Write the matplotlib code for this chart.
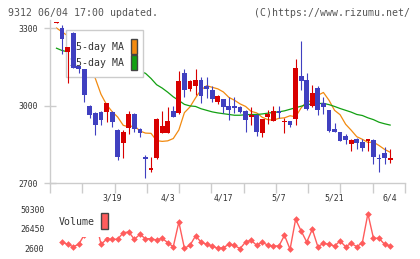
import numpy as np
import matplotlib
matplotlib.use("Agg")
import matplotlib.pyplot as plt
from matplotlib.patches import Rectangle
from matplotlib.transforms import blended_transform_factory

# ---------------- data ----------------
opens = [3320, 3299, 3206, 3281, 3153, 3140, 2998, 2970, 2976, 2974,
         2976, 2905, 2854, 2912, 2967, 2909, 2797, 2753, 2796, 2896,
         2896, 2979, 2970, 3127, 3063, 3077, 3099, 3077, 3060, 3016,
         3025, 2998, 2998, 2995, 2980, 2955, 2963, 2896, 2957, 2942,
         2979, 2937, 2940, 2948, 3114, 3099, 2998, 3067, 3011, 2983,
         2908, 2899, 2882, 2851, 2873, 2860, 2864, 2869, 2795, 2817, 2789]
highs = [3325, 3312, 3228, 3283, 3155, 3142, 3003, 2975, 2980, 3012,
         2980, 2908, 2905, 2980, 2970, 2912, 2808, 2802, 2952, 2980,
         2993, 2998, 3134, 3141, 3100, 3141, 3112, 3112, 3075, 3043,
         3027, 3032, 3033, 2997, 2982, 2995, 2966, 2950, 2982, 2997,
         2997, 2954, 2942, 3180, 3251, 3127, 3080, 3076, 3032, 2985,
         2933, 2900, 2892, 2870, 2875, 2873, 2871, 2871, 2815, 2840, 2831]
lows = [3318, 3198, 3088, 3145, 3125, 3015, 2952, 2886, 2924, 2938,
        2916, 2789, 2796, 2892, 2899, 2877, 2722, 2744, 2795, 2895,
        2894, 2955, 2968, 3032, 3058, 3041, 3012, 3028, 3014, 3005,
        2972, 2944, 2971, 2970, 2899, 2925, 2882, 2877, 2930, 2940,
        2951, 2895, 2918, 2925, 3060, 2985, 2994, 2963, 2968, 2900,
        2897, 2862, 2851, 2825, 2834, 2825, 2825, 2776, 2744, 2776, 2779]
closes = [3324, 3256, 3226, 3146, 3143, 3042, 2964, 2926, 2944, 3010,
          2936, 2802, 2899, 2967, 2908, 2896, 2795, 2760, 2950, 2921,
          2941, 2957, 3095, 3060, 3095, 3099, 3038, 3064, 3027, 3036,
          2995, 2984, 2992, 2977, 2944, 2964, 2899, 2948, 2967, 2979,
          2973, 2940, 2925, 3145, 3096, 2986, 3047, 2983, 2993, 2902,
          2899, 2864, 2869, 2866, 2854, 2838, 2870, 2802, 2792, 2799, 2799]

ma5 = [3300, 3285, 3270, 3255, 3240, 3219, 3163, 3104, 3044, 3004,
       2977, 2956, 2924, 2918, 2923, 2902, 2894, 2893, 2865, 2862,
       2864, 2873, 2906, 2973, 2995, 3030, 3061, 3077, 3071, 3065,
       3053, 3032, 3021, 3007, 2997, 2978, 2972, 2955, 2946, 2944,
       2951, 2953, 2961, 2957, 2992, 3016, 3018, 3040, 3051, 3021,
       2982, 2965, 2928, 2905, 2880, 2870, 2858, 2859, 2846, 2831, 2820]
ma25 = [3222, 3213, 3208, 3203, 3197, 3191, 3185, 3179, 3173, 3166,
        3160, 3153, 3146, 3140, 3136, 3133, 3125, 3105, 3081, 3068,
        3052, 3034, 3020, 3005, 2999, 2997, 2988, 2982, 2976, 2972,
        2969, 2966, 2963, 2963, 2965, 2966, 2966, 2968, 2971, 2974,
        2976, 2980, 2986, 2992, 2998, 3004, 3006, 3008, 3009, 3004,
        2997, 2989, 2982, 2975, 2966, 2962, 2953, 2946, 2936, 2930, 2925]

volume = [np.nan, 10700, 7930, 5020, 7930, 19500, 28000, 38000, 7930, 14000,
          14000, 14000, 22000, 22800, 14000, 20000, 14700, 14700, 13100, 15200,
          9900, 5000, 34900, 3100, 6700, 18000, 10700, 7900, 5900, 3100,
          3800, 7900, 6700, 2600, 10700, 12800, 6700, 10700, 6700, 5900,
          5900, 18800, 1900, 38200, 24000, 10700, 26100, 5000, 9100, 7900,
          5900, 11900, 5000, 9100, 5000, 9900, 45000, 15200, 15200, 7900, 5900]

x_labels = ["3/19", "4/3", "4/17", "5/7", "5/21", "6/4"]
x_label_pos = [10, 20, 30, 40, 50, 60]
price_ticks = [2700, 3000, 3300]
vol_ticks = [2600, 26450, 50300]
header_left = "9312 06/04 17:00 updated."
header_right = "(C)https://www.rizumu.net/"
legend_labels = [" 5-day MA", "25-day MA"]
vol_label = "Volume"

# ---------------- style ----------------
W, H = 420, 259
MONO = "DejaVu Sans Mono"
RED = "#d80000"
BLUE = "#4040c0"
ORANGE = "#f28a10"
GREEN = "#12a012"
VOLC = "#ff5c5c"
SPINE = "#cccccc"
TXT = "#333333"


def fx(px):
    return px / W


def fy(py):
    return 1 - py / H


fig = plt.figure(figsize=(W / 100, H / 100), dpi=100)
fig.patch.set_facecolor("white")

# ---------------- main price axes ----------------
x_lo, x_hi = -1.17, 62.67
ax = fig.add_axes([fx(50), fy(183.3), (405 - 50) / W, (183.3 - 20) / H])
ax.set_xlim(x_lo, x_hi)
ax.set_ylim(2700, 3331)
ax.set_facecolor("none")
for s in ["top", "right"]:
    ax.spines[s].set_visible(False)
for s in ["left", "bottom"]:
    ax.spines[s].set_color(SPINE)
    ax.spines[s].set_linewidth(1.0)

idx = np.arange(len(closes))
o = np.array(opens, float)
c = np.array(closes, float)
h = np.array(highs, float)
l = np.array(lows, float)
up = c >= o
cols = np.where(up, RED, BLUE)
bottom = np.minimum(o, c)
height = np.maximum(np.abs(c - o), 5)

ax.plot(idx, ma5, color=ORANGE, lw=0.9, zorder=1.5)
ax.plot(idx, ma25, color=GREEN, lw=0.9, zorder=1.5)

ax.vlines(idx, l, h, colors=cols, lw=0.8, zorder=2.9)
ax.bar(idx, height, bottom=bottom, width=0.86, color=cols, linewidth=0, zorder=3)

ax.set_yticks(price_ticks)
ax.set_yticklabels([str(v) for v in price_ticks])
ax.tick_params(axis="y", direction="inout", length=8, width=1, color=SPINE,
               pad=4.8, labelsize=5.9, labelcolor=TXT)
for t in ax.get_yticklabels():
    t.set_fontfamily(MONO)

ax.set_xticks(np.linspace(x_lo, x_hi, 12))
ax.set_xticklabels([])
ax.tick_params(axis="x", direction="out", length=7, width=1, color=SPINE)

btrans = blended_transform_factory(ax.transData, fig.transFigure)
for pos, lab in zip(x_label_pos, x_labels):
    ax.text(pos, fy(198), lab, transform=btrans, ha="center", va="center",
            fontsize=5.9, color=TXT, family=MONO)

# main legend (under candles, above MA lines)
ax.add_patch(Rectangle((fx(65.7), fy(77.3)), (143.3 - 65.7) / W, (77.3 - 30) / H,
                       transform=fig.transFigure, facecolor="white",
                       edgecolor=SPINE, lw=1.0, zorder=2, clip_on=False))
for lab, ycen, col in zip(legend_labels, [46.7, 62.7], [ORANGE, GREEN]):
    ax.text(fx(124), fy(ycen), lab, transform=fig.transFigure, ha="right",
            va="center", fontsize=7.1, color=TXT, family=MONO, zorder=2.1)
    ax.add_patch(Rectangle((fx(131), fy(ycen + 7.5)), 6.3 / W, 15 / H,
                           transform=fig.transFigure, facecolor=col,
                           edgecolor="#444444", lw=1.0, zorder=2.1,
                           clip_on=False))

# ---------------- volume axes ----------------
vax = fig.add_axes([fx(50), fy(252), (405 - 50) / W, (252 - 205) / H])
vax.set_xlim(x_lo, x_hi)
vax.set_ylim(-1400, 55500)
vax.set_facecolor("none")
for s in vax.spines.values():
    s.set_visible(False)
vax.plot(idx, volume, color=VOLC, lw=1.0, marker="D", ms=3.4,
         markeredgewidth=0, zorder=2, clip_on=False)
vax.set_xticks([])
vax.set_yticks(vol_ticks)
vax.set_yticklabels([str(v) for v in vol_ticks])
vax.tick_params(axis="y", length=0, pad=4.1, labelsize=5.9, labelcolor=TXT)
for t in vax.get_yticklabels():
    t.set_fontfamily(MONO)

vax.add_patch(Rectangle((fx(53), fy(236.7)), (112 - 53) / W, (236.7 - 207) / H,
                        transform=fig.transFigure, facecolor="white",
                        edgecolor="none", zorder=3, clip_on=False))
vax.text(fx(58.3), fy(222), vol_label, transform=fig.transFigure, ha="left",
         va="center", fontsize=7.1, color=TXT, family=MONO, zorder=4)
vax.add_patch(Rectangle((fx(101), fy(228.7)), 7.3 / W, 16 / H,
                        transform=fig.transFigure, facecolor=VOLC,
                        edgecolor="#444444", lw=1.0, zorder=4, clip_on=False))

# ---------------- header ----------------
fig.text(fx(8.3), fy(12.7), header_left, ha="left", va="center",
         fontsize=7.1, color="#555555", family=MONO)
fig.text(fx(410), fy(12.7), header_right, ha="right", va="center",
         fontsize=7.1, color="#555555", family=MONO)

fig.savefig("out.png", dpi=100, facecolor="white")
